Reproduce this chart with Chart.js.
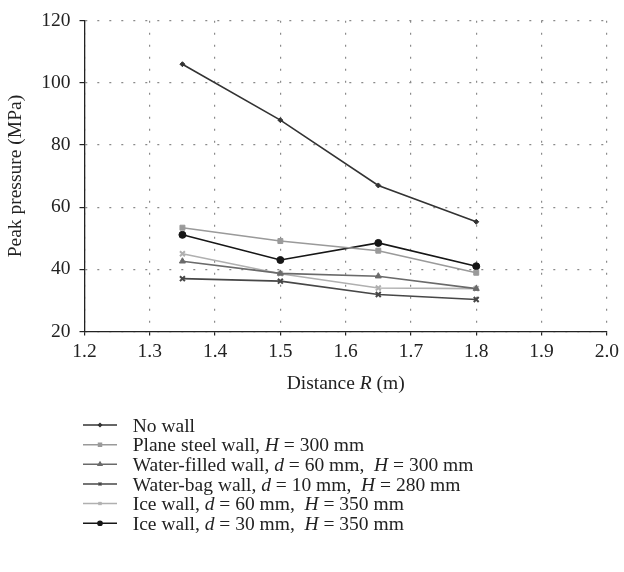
<!DOCTYPE html>
<html>
<head>
<meta charset="utf-8">
<script src="https://cdn.jsdelivr.net/npm/chart.js@4/dist/chart.umd.min.js"></script>
<style>
  body { margin: 0; background: #fff; }
  #wrap { width: 624px; height: 572px; }
</style>
</head>
<body>
<div id="wrap"><canvas id="pressureChart" width="624" height="572"></canvas></div>
<script>
// data
const distance = [1.35, 1.5, 1.65, 1.8];
const noWall = [106, 88, 67, 55.3];
const planeSteel = [53.4, 49.1, 46, 38.9];
const waterFilled = [42.6, 38.7, 37.8, 33.8];
const waterBag = [37, 36.2, 31.9, 30.3];
const ice60 = [45, 38.6, 34, 33.8];
const ice30 = [51.1, 43, 48.5, 41];

// *x* marks italic text
const seriesLabels = [
  "No wall",
  "Plane steel wall, *H* = 300 mm",
  "Water-filled wall, *d* = 60 mm,  *H* = 300 mm",
  "Water-bag wall, *d* = 10 mm,  *H* = 280 mm",
  "Ice wall, *d* = 60 mm,  *H* = 350 mm",
  "Ice wall, *d* = 30 mm,  *H* = 350 mm"
];
const seriesValues = [noWall, planeSteel, waterFilled, waterBag, ice60, ice30];
const seriesColors = ["#333333", "#9a9a9a", "#6a6a6a", "#474747", "#b0b0b0", "#161616"];
const pointStyles = ["rectRot", "rect", "triangle", "crossRot", "crossRot", "circle"];
const pointSizes = [2.5, 3.5, 3.5, 3.5, 3.5, 3.5];

const xMin = 1.2, xMax = 2.0, xStep = 0.1;
const yMin = 20, yMax = 120, yStep = 20;
const xTitle = "Distance *R* (m)";
const yTitle = "Peak pressure (MPa)";

const fontFamily = '"Liberation Serif", "Times New Roman", serif';
const textColor = "#222";

function drawRich(ctx, str, x, y, align) {
  const parts = str.split("*");
  let total = 0;
  const widths = parts.map((p, i) => {
    ctx.font = (i % 2 ? "italic " : "") + "19.5px " + fontFamily;
    const w = ctx.measureText(p).width;
    total += w;
    return w;
  });
  let cx = align === "center" ? x - total / 2 : x;
  ctx.textAlign = "left";
  ctx.textBaseline = "alphabetic";
  parts.forEach((p, i) => {
    ctx.font = (i % 2 ? "italic " : "") + "19.5px " + fontFamily;
    ctx.fillText(p, cx, y);
    cx += widths[i];
  });
}

const titlesAndLegend = {
  id: "titlesAndLegend",
  afterDraw(chart) {
    const ctx = chart.ctx;
    const area = chart.chartArea;

    ctx.save();
    ctx.fillStyle = textColor;
    ctx.font = "19.5px " + fontFamily;
    ctx.translate(16, (area.top + area.bottom) / 2);
    ctx.rotate(-Math.PI / 2);
    ctx.textAlign = "center";
    ctx.textBaseline = "middle";
    ctx.fillText(yTitle, 0, 0);
    ctx.restore();

    ctx.save();
    ctx.fillStyle = textColor;
    drawRich(ctx, xTitle, (area.left + area.right) / 2, 389, "center");

    seriesLabels.forEach((label, i) => {
      const base = 431.7 + i * 19.65;
      const ly = base - 6.7;
      ctx.strokeStyle = seriesColors[i];
      ctx.fillStyle = seriesColors[i];
      ctx.lineWidth = 1.5;
      ctx.beginPath();
      ctx.moveTo(83, ly);
      ctx.lineTo(117, ly);
      ctx.stroke();
      if (Chart.helpers && Chart.helpers.drawPoint) {
        Chart.helpers.drawPoint(ctx, {
          pointStyle: pointStyles[i],
          radius: pointSizes[i] * 0.6,
          rotation: 0,
          borderWidth: 1
        }, 100, ly);
      }
      ctx.fillStyle = textColor;
      drawRich(ctx, label, 132.7, base, "left");
    });
    ctx.restore();
  }
};

const datasets = seriesLabels.map((label, i) => ({
  label: label.replace(/\*/g, ""),
  data: distance.map((d, j) => ({ x: d, y: seriesValues[i][j] })),
  borderColor: seriesColors[i],
  backgroundColor: seriesColors[i],
  borderWidth: 1.6,
  pointStyle: pointStyles[i],
  pointRadius: pointSizes[i],
  pointBorderWidth: pointStyles[i] === "crossRot" ? 2 : 1,
  tension: 0,
  fill: false
}));

const tickFont = { family: fontFamily, size: 19.5 };

new Chart(document.getElementById("pressureChart").getContext("2d"), {
  type: "line",
  data: { datasets: datasets },
  plugins: [titlesAndLegend],
  options: {
    responsive: false,
    animation: false,
    layout: { padding: { top: 15, right: 15, left: 0, bottom: 0 } },
    plugins: { legend: { display: false }, tooltip: { enabled: false } },
    scales: {
      x: {
        type: "linear",
        min: xMin,
        max: xMax,
        ticks: { stepSize: xStep, callback: v => v.toFixed(1), font: tickFont, color: textColor, padding: 5, maxRotation: 0 },
        grid: { color: "#8a8a8a", lineWidth: 1.2, tickLength: 4, tickColor: "#222", tickBorderDash: [] },
        border: { color: "#222", width: 1.3, dash: [2, 10] },
        afterFit(s) { s.height = 572 - 331.5; }
      },
      y: {
        min: yMin,
        max: yMax,
        ticks: { stepSize: yStep, font: tickFont, color: textColor, padding: 9 },
        grid: { color: "#8a8a8a", lineWidth: 1.2, tickLength: 5, tickColor: "#222", tickBorderDash: [] },
        border: { color: "#222", width: 1.3, dash: [2, 10] },
        afterFit(s) { s.width = 84.5; }
      }
    }
  }
});
</script>
</body>
</html>
